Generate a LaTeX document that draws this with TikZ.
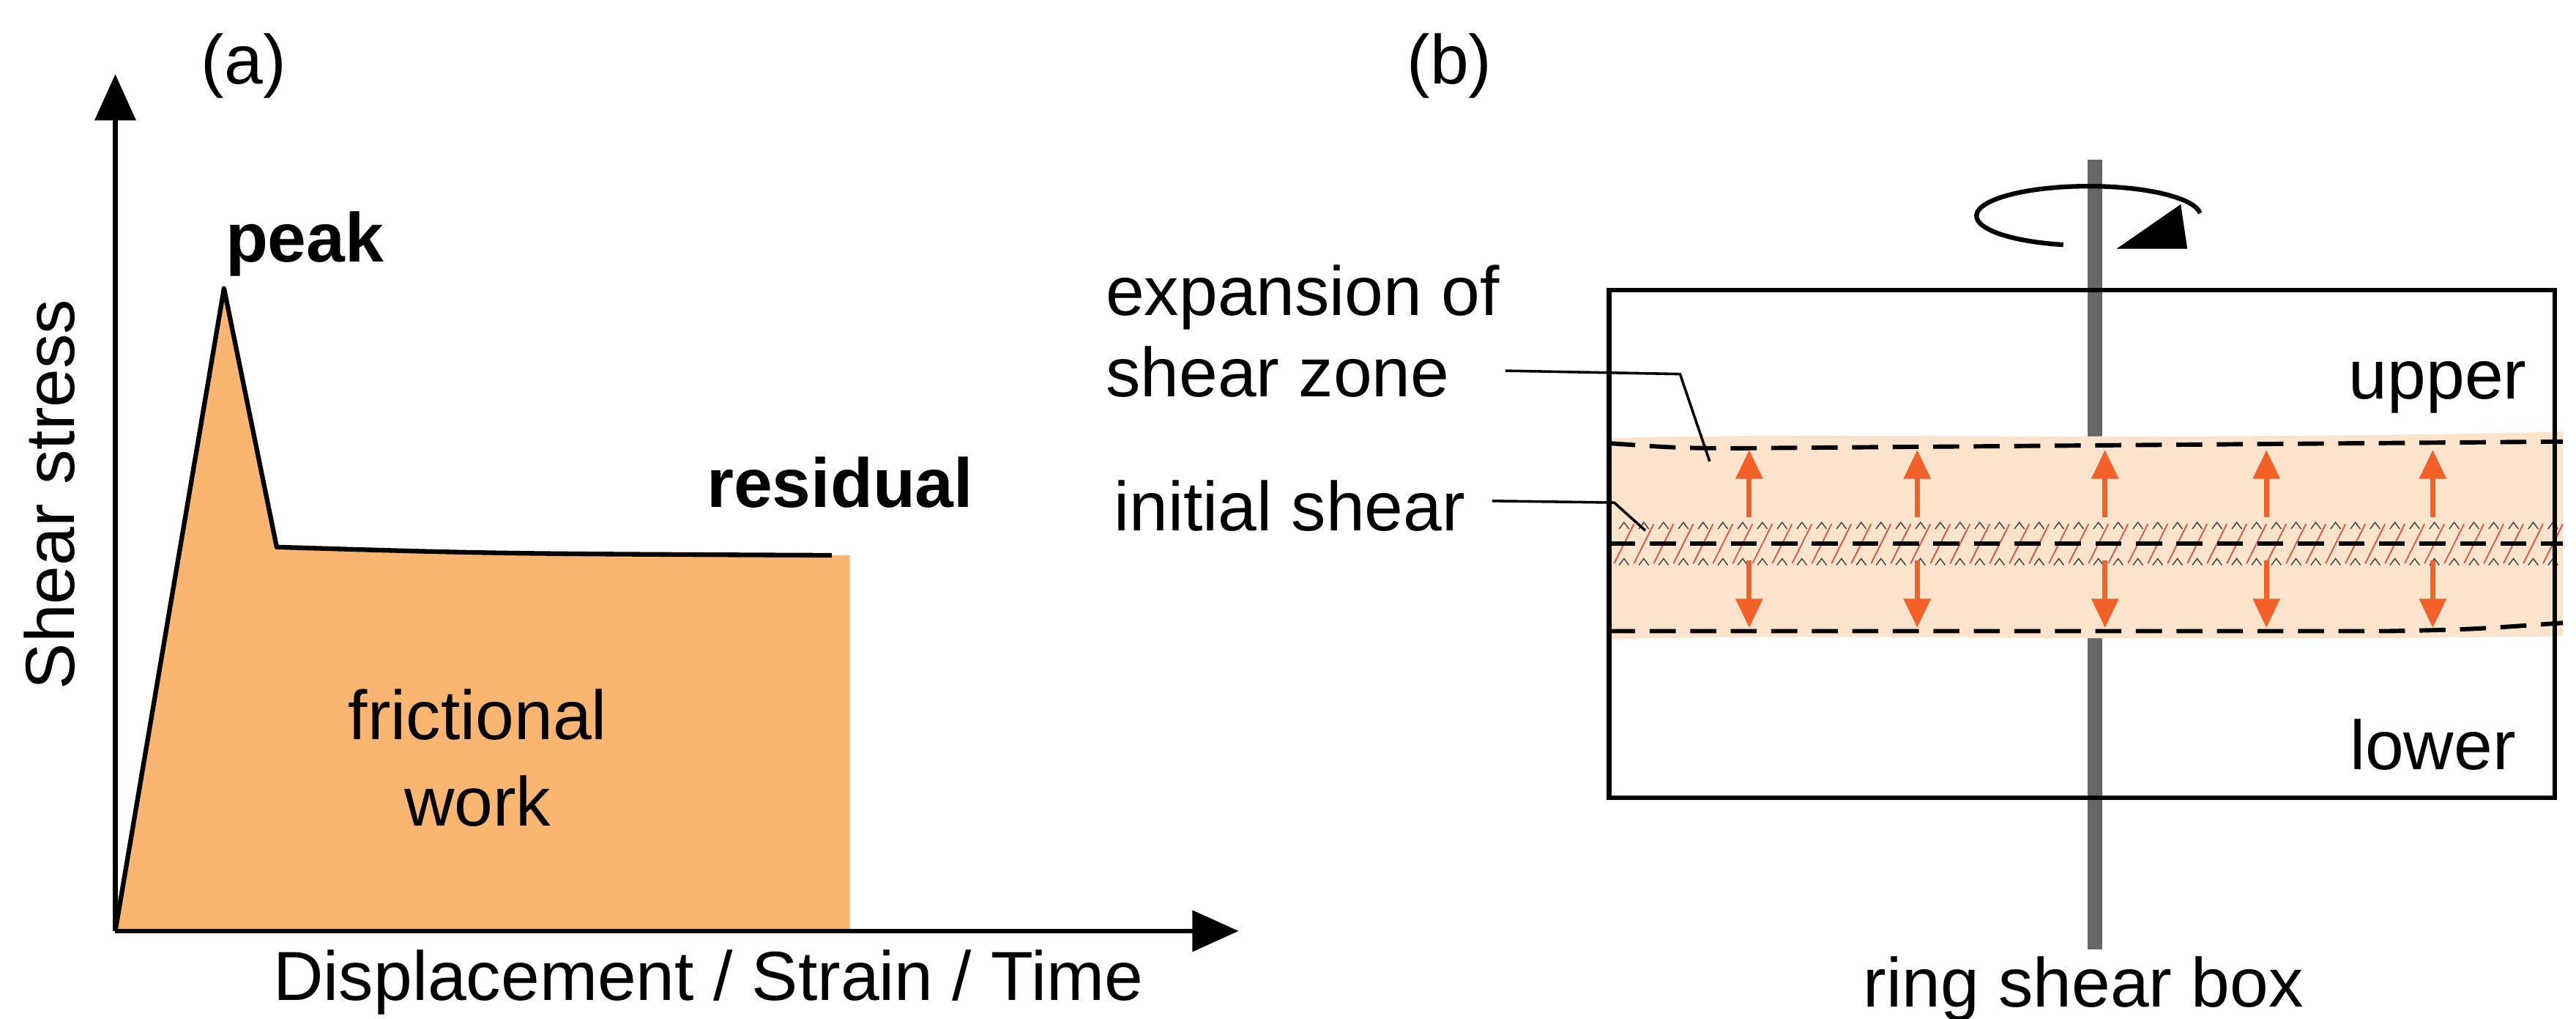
\documentclass[tikz,border=0pt]{standalone}
\usepackage{fontspec}
\setmainfont{Liberation Sans}
\usepackage{tikz}
\usetikzlibrary{arrows,arrows.meta,positioning,calc}

\definecolor{workfill}{RGB}{250,181,113}
\definecolor{zonefill}{RGB}{252,227,204}
\definecolor{arrowred}{RGB}{243,96,40}
\definecolor{hatchred}{RGB}{222,90,80}

\begin{document}
\begin{tikzpicture}[x=0.02cm, y=-0.02cm,
            every node/.style={font=\fontsize{24}{28}\selectfont, inner sep=0pt},
            axis/.style={line width=1.6pt, -{Triangle[length=16pt, width=14pt]}},
            curve/.style={line width=1.6pt, line join=round},
            zone/.style={dashed, dash pattern=on 9pt off 5pt, line width=1.5pt},
            expand/.style={draw=arrowred, line width=1.8pt, -{Triangle[length=10pt, width=9pt]}},
            leader/.style={line width=0.9pt}]
        \useasboundingbox (0,0) rectangle (1564,618);

        % (a) stress curve
        \coordinate (O) at (70,565);
        \coordinate (ytop) at (70,45);
        \coordinate (xend) at (752,565);
        \coordinate (pk) at (136,175);
        \coordinate (kn) at (168,332);
        \coordinate (res) at (505,337);
        \fill[workfill] (O) -- (pk) -- (kn) -- (300,336) -- (res) -- (516,337) -- (516,565) -- cycle;
        \draw[curve] (O) -- (pk) -- (kn) .. controls (300,336) .. (res);
        \draw[axis] (O) -- (ytop);
        \draw[axis] (O) -- (xend);
        \node (lblA) at (148,40) {(a)};
        \node[font=\fontsize{24}{28}\selectfont\bfseries] (peak) at (185,148) {peak};
        \node[font=\fontsize{24}{28}\selectfont\bfseries] (resid) at (510,293) {residual};
        \node[align=center, font=\fontsize{24}{30}\selectfont] (work) at (290,460) {frictional\\work};
        \node[rotate=90] (ylbl) at (30,300) {Shear stress};
        \node (xlbl) at (430,596) {Displacement / Strain / Time};

        % (b) ring shear box
        \node (lblB) at (880,40) {(b)};
        \draw[line width=5pt, draw=black!60] (1272,97) -- (1272,576);
        \fill[zonefill] (976,266) .. controls (1100,262) and (1300,268) .. (1556,262)
            -- (1556,386) .. controls (1300,390) and (1100,384) .. (976,388) -- cycle;
        \draw[zone] (977,269) .. controls (1020,272) .. (1060,272) -- (1556,268);
        \draw[zone] (977,383) -- (1450,383) .. controls (1500,382) .. (1556,378);
        \foreach \hx in {980,992,...,1550} {
            \draw[hatchred, line width=0.5pt] (\hx,342) -- (\hx+12,318);
            \draw[black!70, line width=0.4pt] (\hx+3,321) -- (\hx+6,317) -- (\hx+9,321);
            \draw[black!70, line width=0.4pt] (\hx+3,343) -- (\hx+6,339) -- (\hx+9,343);
        }
        \draw[zone] (977,330) -- (1556,330);
        \foreach \ax in {1062,1164,1278,1376,1477} {
            \draw[expand] (\ax,314) -- (\ax,273);
            \draw[expand] (\ax,340) -- (\ax,381);
        }
        \draw[line width=1.6pt] (977,176) rectangle (1551,484);

        % rotation arrow
        \draw[line width=1.6pt] (1268,131) ++(103:68 and 18) arc[start angle=103, end angle=355, x radius=68, y radius=18];
        \fill (1285,151) -- (1328,151) -- (1324,124) -- cycle;

        \node (upper) at (1480,235) {upper};
        \node (lower) at (1477,452) {lower};
        \node (ring) at (1265,600) {ring shear box};
        \node[align=left, anchor=west] (expl) at (671,201) {expansion of\\shear zone};
        \node[anchor=west] (init) at (676,307) {initial shear};
        \draw[leader] (914,225) -- (1020,227) -- (1038,280);
        \draw[leader] (906,304) -- (980,305) -- (999,322);
\end{tikzpicture}
\end{document}
